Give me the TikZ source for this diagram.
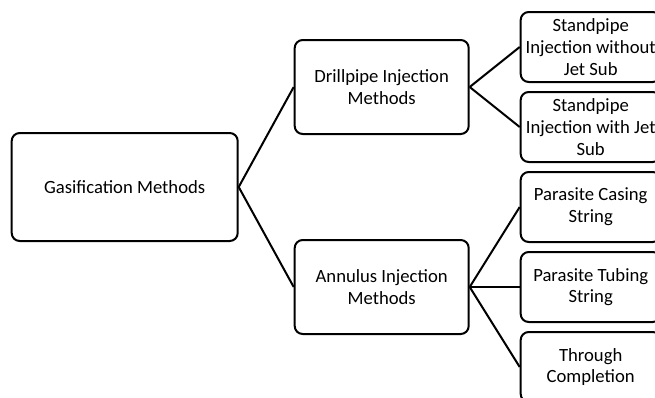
\documentclass[tikz,border=0pt]{standalone}
\usepackage{fontspec}
\setmainfont{Carlito}
\begin{document}
\begin{tikzpicture}[x=0.75pt,y=-0.75pt,
  every node/.style={draw,line width=1.5pt,rounded corners=6pt,align=center,inner xsep=1pt,
    font=\fontsize{14}{16.3}\selectfont},
  grow'=right,parent anchor=east,child anchor=west,
  edge from parent/.style={draw,line width=1.5pt},
  level 1/.style={level distance=192.75pt,sibling distance=150pt,minimum width=130.5pt,minimum height=70.5pt},
  level 2/.style={level distance=156.75pt,sibling distance=60pt,minimum width=105pt,minimum height=52.5pt}]
\useasboundingbox (0,0) rectangle (655,397);
\clip (0,0) rectangle (655,397);
\node [minimum width=169.5pt,minimum height=81pt] (g) at (124.7,187) {Gasification Methods}
  child {node (d) {Drillpipe Injection\\Methods}
    child {node (d1) {Standpipe\\Injection without\\Jet Sub}}
    child {node (d2) {Standpipe\\Injection with Jet\\Sub}}
    }
  child {node (a) {Annulus Injection\\Methods}
    child {node (a1) {Parasite Casing\\String}}
    child {node (a2) {Parasite Tubing\\String}}
    child {node (a3) {Through\\Completion}}
    };
\end{tikzpicture}
\end{document}
